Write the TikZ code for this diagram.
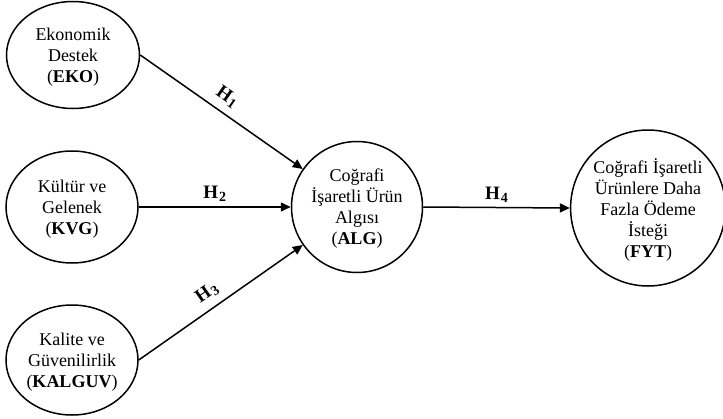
\documentclass[tikz,border=0pt]{standalone}
\usepackage{fontspec}
\setmainfont{Liberation Serif}
\usetikzlibrary{shapes.geometric,arrows.meta}
\newcommand{\hsub}[1]{H\kern1pt\raisebox{-3pt}{\fontsize{14}{14}\selectfont #1}}
\begin{document}
\begin{tikzpicture}[x=1pt,y=-1pt,
  ell/.style={ellipse,draw,line width=1.5pt,inner sep=0pt,align=center,
    text depth=0pt,font=\fontsize{18}{21}\selectfont},
  arr/.style={line width=1.5pt,-{Triangle[length=10pt,width=9pt]}},
  hl/.style={font=\fontsize{19}{21}\selectfont\bfseries,inner sep=0pt,sloped}]
\useasboundingbox (0,0) rectangle (723,418);
\node[ell,minimum width=133,minimum height=107] (eko) at (73,55)
  {Ekonomik\\Destek\\(\textbf{EKO})};
\node[ell,minimum width=132,minimum height=112] (kvg) at (72,207)
  {Kültür ve\\Gelenek\\(\textbf{KVG})};
\node[ell,minimum width=132,minimum height=110] (kal) at (72,360)
  {Kalite ve\\Güvenilirlik\\(\textbf{KALGUV})};
\node[ell,minimum width=131,minimum height=131] (alg) at (357,207)
  {Coğrafi\\İşaretli Ürün\\Algısı\\(\textbf{ALG})};
\node[ell,minimum width=146,minimum height=156] (fyt) at (648,208)
  {Coğrafi İşaretli\\Ürünlere Daha\\Fazla Ödeme\\İsteği\\(\textbf{FYT})};
\draw[arr] (eko.east) -- node[hl,pos=0.48,above=7pt] {\hsub{1}} (alg);
\draw[arr] (kvg.east) -- node[hl,pos=0.5,above=4.5pt] {\hsub{2}} (alg.west);
\draw[arr] (kal.east) -- node[hl,pos=0.47,above=7pt] {\hsub{3}} (alg);
\draw[arr] (alg.east) -- node[hl,pos=0.5,above=4.5pt] {\hsub{4}} (fyt.west);
\end{tikzpicture}
\end{document}
